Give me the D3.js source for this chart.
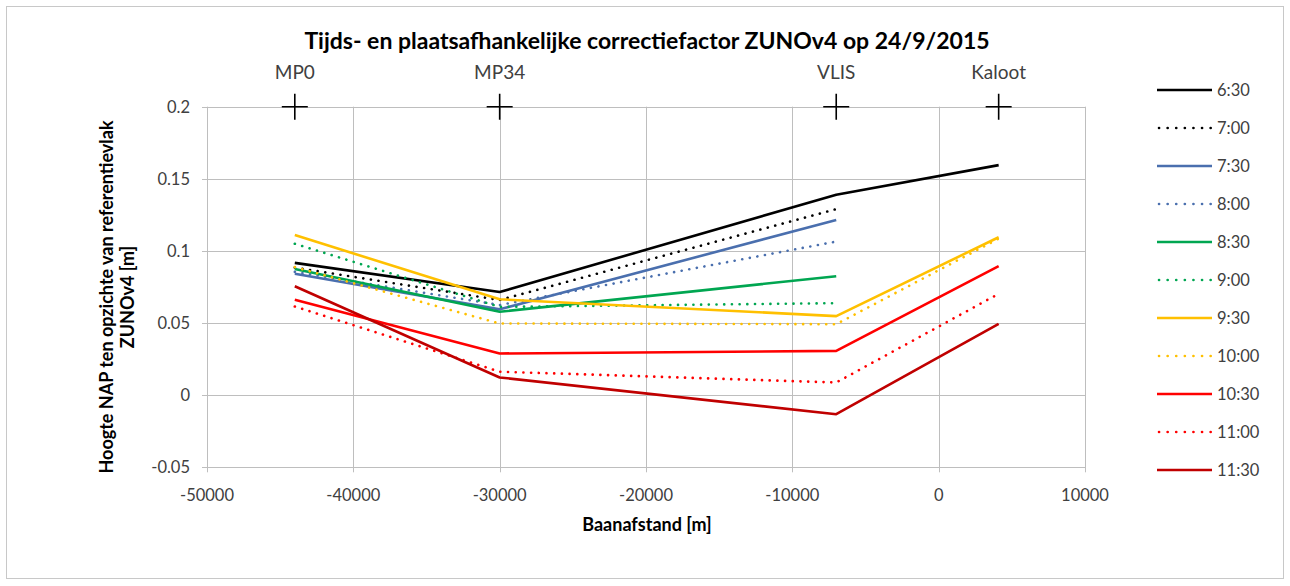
<!DOCTYPE html>
<html>
<head>
<meta charset="utf-8">
<script src="https://cdn.jsdelivr.net/npm/d3@7"></script>
<style>
  html, body { margin: 0; padding: 0; background: #fff; }
  svg { display: block; font-family: Lato, "Liberation Sans", sans-serif; }
</style>
</head>
<body>
<svg id="chart" width="1290" height="586"></svg>
<script>
// Measuring stations along the track (distance in m)
const stations = ["MP0", "MP34", "VLIS", "Kaloot"];
const stationX = [-44000, -30000, -7000, 4100];

// Time labels of the correction profiles
const times = ["6:30", "7:00", "7:30", "8:00", "8:30", "9:00", "9:30", "10:00", "10:30", "11:00", "11:30"];

// Correction factor per station for each time (null = no value at that station)
const v0630 = [0.0917, 0.0715, 0.139, 0.1595];
const v0700 = [0.0885, 0.066, 0.129, null];
const v0730 = [0.0842, 0.0595, 0.1215, null];
const v0800 = [0.0855, 0.0625, 0.1065, null];
const v0830 = [0.0875, 0.0578, 0.0825, null];
const v0900 = [0.105, 0.0612, 0.0638, null];
const v0930 = [0.111, 0.0665, 0.0548, 0.1095];
const v1000 = [0.0888, 0.0497, 0.0492, 0.1085];
const v1030 = [0.0662, 0.0289, 0.0307, 0.0895];
const v1100 = [0.0615, 0.0163, 0.0088, 0.0703];
const v1130 = [0.0755, 0.0123, -0.0132, 0.0495];
const seriesValues = [v0630, v0700, v0730, v0800, v0830, v0900, v0930, v1000, v1030, v1100, v1130];

// Line styling per series
const colors = ["#000000", "#000000", "#4A6FAE", "#4A6FAE", "#00A651", "#00A651",
                "#FFC000", "#FFC000", "#FF0000", "#FF0000", "#C00000"];
const dotted = [false, true, false, true, false, true, false, true, false, true, false];

// Height of the station markers
const markerY = 0.2;

// Axis ticks
const xTicks = [-50000, -40000, -30000, -20000, -10000, 0, 10000];
const yTicks = [-0.05, 0, 0.05, 0.1, 0.15, 0.2];

const svg = d3.select("#chart");

// Outer frame
svg.append("rect")
  .attr("x", 6.5).attr("y", 6.5).attr("width", 1277).attr("height", 572)
  .attr("fill", "#fff").attr("stroke", "#C8C8C8").attr("stroke-width", 1);

const x = d3.scaleLinear().domain([-50000, 10000]).range([207, 1085]);
const y = d3.scaleLinear().domain([-0.05, 0.2]).range([467.3, 106.7]);

const gridColor = "#BEBEBE";
const textColor = "#404040";

// Vertical grid lines (and tick marks below the axis)
svg.append("g").selectAll("line").data(xTicks).join("line")
  .attr("x1", d => Math.round(x(d)) + 0.5).attr("x2", d => Math.round(x(d)) + 0.5)
  .attr("y1", y(0.2)).attr("y2", y(-0.05) + 5)
  .attr("stroke", gridColor).attr("stroke-width", 1);

// Horizontal grid lines (and tick marks left of the axis)
svg.append("g").selectAll("line").data(yTicks).join("line")
  .attr("x1", x(-50000) - 5).attr("x2", x(10000))
  .attr("y1", d => Math.round(y(d)) + 0.5).attr("y2", d => Math.round(y(d)) + 0.5)
  .attr("stroke", gridColor).attr("stroke-width", 1);

// Tick labels
svg.append("g").selectAll("text").data(xTicks).join("text")
  .attr("x", d => x(d)).attr("y", 501)
  .attr("text-anchor", "middle").attr("font-size", 16.5).attr("fill", textColor)
  .text(d => d);

svg.append("g").selectAll("text").data(yTicks).join("text")
  .attr("x", 190).attr("y", d => y(d) + 6)
  .attr("text-anchor", "end").attr("font-size", 16.5).attr("fill", textColor)
  .text(d => d);

// Titles
svg.append("text")
  .attr("x", 647).attr("y", 49)
  .attr("text-anchor", "middle").attr("font-size", 23).attr("font-weight", "bold")
  .attr("fill", "#000")
  .text("Tijds- en plaatsafhankelijke correctiefactor ZUNOv4 op 24/9/2015");

svg.append("text")
  .attr("x", 647).attr("y", 531)
  .attr("text-anchor", "middle").attr("font-size", 18).attr("font-weight", "bold")
  .attr("fill", "#000")
  .text("Baanafstand [m]");

const yTitle = svg.append("text")
  .attr("transform", "rotate(-90)")
  .attr("text-anchor", "middle").attr("font-size", 18).attr("font-weight", "bold")
  .attr("fill", "#000");
yTitle.append("tspan").attr("x", -297).attr("y", 113).text("Hoogte NAP ten opzichte van referentievlak");
yTitle.append("tspan").attr("x", -297).attr("y", 134).text("ZUNOv4 [m]");

// Correction profiles
const line = d3.line()
  .x(d => x(d[0]))
  .y(d => y(d[1]));

svg.append("g").selectAll("path").data(seriesValues).join("path")
  .attr("d", vals => line(vals.map((v, i) => [stationX[i], v]).filter(d => d[1] !== null)))
  .attr("fill", "none")
  .attr("stroke", (d, i) => colors[i])
  .attr("stroke-width", 2.6)
  .attr("stroke-linejoin", "round")
  .attr("stroke-linecap", (d, i) => dotted[i] ? "round" : "butt")
  .attr("stroke-dasharray", (d, i) => dotted[i] ? "0.1,7.6" : null);

// Station markers with labels
const st = svg.append("g").selectAll("g").data(stations).join("g")
  .attr("transform", (d, i) => `translate(${x(stationX[i])},${y(markerY)})`);
st.append("path")
  .attr("d", "M-13,0H13M0,-13V13")
  .attr("stroke", "#000").attr("stroke-width", 1.6).attr("fill", "none");
st.append("text")
  .attr("y", -28).attr("text-anchor", "middle")
  .attr("font-size", 19).attr("fill", textColor)
  .text(d => d);

// Legend
const lg = svg.append("g").selectAll("g").data(times).join("g")
  .attr("transform", (d, i) => `translate(1157,${90 + i * 38})`);
lg.append("line")
  .attr("x1", 0).attr("x2", 55).attr("y1", 0).attr("y2", 0)
  .attr("stroke", (d, i) => colors[i])
  .attr("stroke-width", 2.6)
  .attr("stroke-linecap", (d, i) => dotted[i] ? "round" : "butt")
  .attr("stroke-dasharray", (d, i) => dotted[i] ? "0.1,8.5" : null)
  .attr("transform", (d, i) => dotted[i] ? "translate(2,0)" : null);
lg.append("text")
  .attr("x", 60).attr("y", 6)
  .attr("font-size", 16.5).attr("fill", textColor)
  .text(d => d);
</script>
</body>
</html>
